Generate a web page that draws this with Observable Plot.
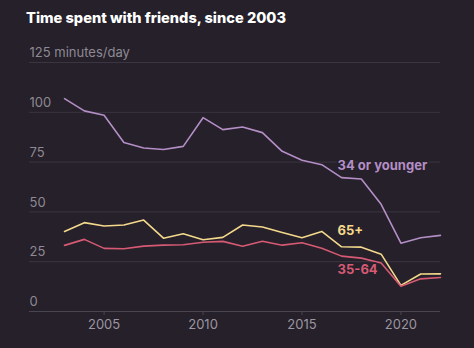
<!DOCTYPE html>
<html>
<head>
<meta charset="utf-8">
<script src="https://cdn.jsdelivr.net/npm/d3@7"></script>
<script src="https://cdn.jsdelivr.net/npm/@observablehq/plot@0.6"></script>
<style>
  html, body { margin: 0; padding: 0; background: #252029; }
  body { width: 474px; height: 348px; overflow: hidden; font-family: Inter, "Noto Sans", sans-serif; }
  #title { height: 40px; box-sizing: border-box; padding: 9px 0 0 26px; color: #ffffff; font-weight: 800; font-size: 14.6px; line-height: 18px; }
  svg { display: block; overflow: visible; }
</style>
</head>
<body>
<div id="title">Time spent with friends, since 2003</div>
<div id="chart"></div>
<script>
const years = [2003,2004,2005,2006,2007,2008,2009,2010,2011,2012,2013,2014,2015,2016,2017,2018,2019,2020,2021,2022];
const young = [106.9,100.7,98.5,84.8,82.1,81.3,82.9,97.3,91.3,92.6,89.8,80.4,75.9,73.7,67.2,66.5,53.8,34.3,37.0,38.2];
const senior = [40.2,44.6,42.9,43.4,45.9,36.8,39.0,36.0,37.2,43.4,42.4,39.7,37.0,40.2,32.5,32.3,28.8,13.1,18.8,18.9];
const middle = [33.2,36.2,31.7,31.5,32.8,33.3,33.5,34.8,35.2,32.8,35.3,33.3,34.5,31.8,27.8,26.8,24.3,12.7,16.4,17.1];
const seriesNames = ["34 or younger", "65+", "35-64"];
const seriesColors = ["#b48ec6", "#f4d98c", "#d65a74"];
const yTicks = [0, 25, 50, 75, 100, 125];
const yTickLabels = ["0", "25", "50", "75", "100", "125 minutes/day"];
const xTicks = [2005, 2010, 2015, 2020];
const labelPos = [{x: 2016.8, y: 73}, {x: 2016.8, y: 40.5}, {x: 2016.8, y: 21}];

const valuesBySeries = [young, senior, middle];
const rows = [];
seriesNames.forEach((s, i) => years.forEach((yr, j) => rows.push({series: s, year: yr, value: valuesBySeries[i][j]})));
const labels = seriesNames.map((s, i) => ({series: s, x: labelPos[i].x, y: labelPos[i].y}));
const yt = yTicks.map((v, i) => ({v, label: yTickLabels[i]}));

const chart = Plot.plot({
  width: 474,
  height: 308,
  marginTop: 22,
  marginBottom: 37,
  marginLeft: 29,
  marginRight: 34,
  style: {background: "transparent", fontFamily: "Inter, 'Noto Sans', sans-serif"},
  x: {type: "linear", domain: [2001.23, 2022], axis: null},
  y: {type: "linear", domain: [0, 125], axis: null},
  color: {domain: seriesNames, range: seriesColors},
  marks: [
    Plot.ruleY(yTicks, {y: d => d, stroke: "#3b3541", strokeWidth: 1}),
    Plot.ruleY([0], {y: d => d, stroke: "#4a4450", strokeWidth: 1}),
    Plot.ruleX(xTicks, {x: d => d, y1: 0, y2: -2, stroke: "#4a4450", strokeWidth: 1, clip: false}),
    Plot.text(xTicks, {x: d => d, y: 0, dy: 13, text: d => String(d), fill: "#9b96a1", fontSize: 13, textAnchor: "middle"}),
    Plot.text(yt, {x: 2001.23, y: "v", text: "label", dy: -9.5, textAnchor: "start", fill: "#8e8994", fontSize: 13}),
    Plot.line(rows, {x: "year", y: "value", z: "series", stroke: "series", strokeWidth: 1.6}),
    Plot.text(labels, {x: "x", y: "y", text: "series", fill: "series", textAnchor: "start", fontSize: 13, fontWeight: 700, stroke: "#252029", strokeWidth: 3})
  ]
});
document.getElementById("chart").appendChild(chart);
</script>
</body>
</html>
